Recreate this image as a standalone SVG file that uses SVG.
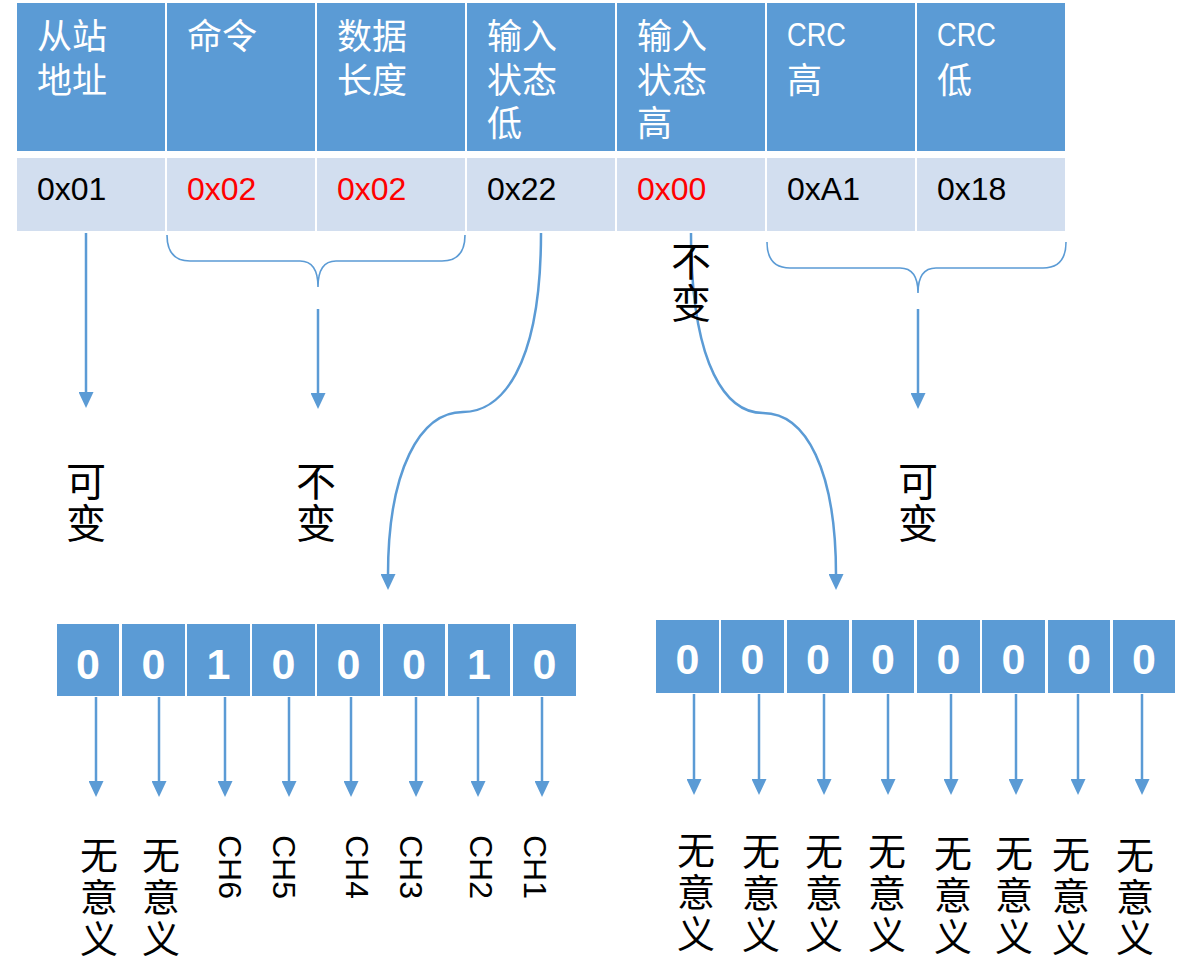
<svg xmlns="http://www.w3.org/2000/svg" width="1188" height="963" viewBox="0 0 1188 963">
<style>
.hd{fill:#5B9BD5}
.vl{fill:#D2DEEF}
.ht{font-family:"Noto Sans CJK SC","Liberation Sans",sans-serif;font-size:35px;fill:#fff}
.hl{font-family:"Liberation Sans",sans-serif;font-size:34px}
.v{font-family:"Liberation Sans",sans-serif;font-size:32px;fill:#000}
.r{fill:#FF0000}
.bit{fill:#5B9BD5}
.bt{font-family:"Liberation Sans",sans-serif;font-weight:bold;font-size:43px;fill:#fff;text-anchor:middle}
.cj{font-family:"Noto Sans CJK SC",sans-serif;font-size:38px;fill:#000;writing-mode:vertical-rl;letter-spacing:4px}
.cj2{font-family:"Noto Sans CJK SC",sans-serif;font-size:40px;fill:#000;writing-mode:vertical-rl;letter-spacing:2px}
.ch{font-family:"Liberation Sans",sans-serif;font-size:32px;fill:#000}
.ln{stroke:#5B9BD5;stroke-width:2.5;fill:none}
.br{stroke:#5B9BD5;stroke-width:1.6;fill:none}
</style>
<defs>
<marker id="ah" markerUnits="userSpaceOnUse" markerWidth="16" markerHeight="15" refX="1" refY="7.5" orient="auto" viewBox="0 0 16 15">
<path d="M0,0 L16,7.5 L0,15 Z" fill="#5B9BD5"/>
</marker>
</defs>
<rect width="1188" height="963" fill="#fff"/>

<g id="table">
<g id="col1"><rect class="hd" x="17" y="3" width="148" height="148"/><rect class="vl" x="17" y="158" width="148" height="73"/>
<text class="ht" x="37" y="49">从站<tspan x="37" dy="43.5">地址</tspan></text><text class="v" x="37" y="200">0x01</text></g>
<g id="col2"><rect class="hd" x="167" y="3" width="148" height="148"/><rect class="vl" x="167" y="158" width="148" height="73"/>
<text class="ht" x="187" y="49">命令</text><text class="v r" x="187" y="200">0x02</text></g>
<g id="col3"><rect class="hd" x="317" y="3" width="148" height="148"/><rect class="vl" x="317" y="158" width="148" height="73"/>
<text class="ht" x="337" y="49">数据<tspan x="337" dy="43.5">长度</tspan></text><text class="v r" x="337" y="200">0x02</text></g>
<g id="col4"><rect class="hd" x="467" y="3" width="148" height="148"/><rect class="vl" x="467" y="158" width="148" height="73"/>
<text class="ht" x="487" y="49">输入<tspan x="487" dy="43.5">状态</tspan><tspan x="487" dy="43.5">低</tspan></text><text class="v" x="487" y="200">0x22</text></g>
<g id="col5"><rect class="hd" x="617" y="3" width="148" height="148"/><rect class="vl" x="617" y="158" width="148" height="73"/>
<text class="ht" x="637" y="49">输入<tspan x="637" dy="43.5">状态</tspan><tspan x="637" dy="43.5">高</tspan></text><text class="v r" x="637" y="200">0x00</text></g>
<g id="col6"><rect class="hd" x="767" y="3" width="148" height="148"/><rect class="vl" x="767" y="158" width="148" height="73"/>
<text class="ht" x="787" y="46"><tspan class="hl" textLength="59" lengthAdjust="spacingAndGlyphs">CRC</tspan><tspan x="787" y="92.5">高</tspan></text><text class="v" x="787" y="200">0xA1</text></g>
<g id="col7"><rect class="hd" x="917" y="3" width="148" height="148"/><rect class="vl" x="917" y="158" width="148" height="73"/>
<text class="ht" x="937" y="46"><tspan class="hl" textLength="59" lengthAdjust="spacingAndGlyphs">CRC</tspan><tspan x="937" y="92.5">低</tspan></text><text class="v" x="937" y="200">0x18</text></g>
</g>

<g id="connectors">
<line class="ln" x1="86" y1="233" x2="86" y2="393" marker-end="url(#ah)"/>
<path class="br" d="M167,235 Q167,261 190,261 L300,261 Q318,261 318,287 Q318,261 336,261 L442,261 Q465,261 465,235"/>
<line class="ln" x1="318" y1="309" x2="318" y2="394" marker-end="url(#ah)"/>
<path class="br" d="M767,242 Q767,268 790,268 L900,268 Q918,268 918,293 Q918,268 936,268 L1043,268 Q1066,268 1066,242"/>
<line class="ln" x1="918" y1="309" x2="918" y2="394" marker-end="url(#ah)"/>
<path class="ln" d="M541,233 C541,370 500,412 463,412 C420,412 388,470 388,575" marker-end="url(#ah)"/>
<path class="ln" d="M691,233 C691,370 728,413 763,413 C806,413 836,470 836,575" marker-end="url(#ah)"/>
<line class="ln" x1="96" y1="697" x2="96" y2="782" marker-end="url(#ah)"/>
<line class="ln" x1="159" y1="697" x2="159" y2="782" marker-end="url(#ah)"/>
<line class="ln" x1="225" y1="697" x2="225" y2="782" marker-end="url(#ah)"/>
<line class="ln" x1="289" y1="697" x2="289" y2="782" marker-end="url(#ah)"/>
<line class="ln" x1="351" y1="697" x2="351" y2="782" marker-end="url(#ah)"/>
<line class="ln" x1="416" y1="697" x2="416" y2="782" marker-end="url(#ah)"/>
<line class="ln" x1="478" y1="697" x2="478" y2="782" marker-end="url(#ah)"/>
<line class="ln" x1="542" y1="697" x2="542" y2="782" marker-end="url(#ah)"/>
<line class="ln" x1="694" y1="694" x2="694" y2="780" marker-end="url(#ah)"/>
<line class="ln" x1="759" y1="694" x2="759" y2="780" marker-end="url(#ah)"/>
<line class="ln" x1="824" y1="694" x2="824" y2="780" marker-end="url(#ah)"/>
<line class="ln" x1="888" y1="694" x2="888" y2="780" marker-end="url(#ah)"/>
<line class="ln" x1="951" y1="694" x2="951" y2="780" marker-end="url(#ah)"/>
<line class="ln" x1="1016" y1="694" x2="1016" y2="780" marker-end="url(#ah)"/>
<line class="ln" x1="1078" y1="694" x2="1078" y2="780" marker-end="url(#ah)"/>
<line class="ln" x1="1142" y1="694" x2="1142" y2="780" marker-end="url(#ah)"/>
</g>

<g id="label-top-bubian"><text class="cj2" x="691" y="241">不变</text></g>
<g id="label-kebian-left"><text class="cj2" x="86" y="461">可变</text></g>
<g id="label-bubian-mid"><text class="cj2" x="316" y="461">不变</text></g>
<g id="label-kebian-right"><text class="cj2" x="918" y="461">可变</text></g>

<g id="bits-low">
<rect class="bit" x="57" y="624" width="62" height="72"/><text class="bt" x="88" y="679">0</text>
<rect class="bit" x="122" y="624" width="63" height="72"/><text class="bt" x="153.5" y="679">0</text>
<rect class="bit" x="187" y="624" width="63" height="72"/><text class="bt" x="218.5" y="679">1</text>
<rect class="bit" x="252" y="624" width="63" height="72"/><text class="bt" x="283.5" y="679">0</text>
<rect class="bit" x="317" y="624" width="63" height="72"/><text class="bt" x="348.5" y="679">0</text>
<rect class="bit" x="383" y="624" width="62" height="72"/><text class="bt" x="414" y="679">0</text>
<rect class="bit" x="448" y="624" width="62" height="72"/><text class="bt" x="479" y="679">1</text>
<rect class="bit" x="513" y="624" width="63" height="72"/><text class="bt" x="544.5" y="679">0</text>
</g>

<g id="bits-high">
<rect class="bit" x="656" y="620" width="63" height="73"/><text class="bt" x="687.5" y="674">0</text>
<rect class="bit" x="721" y="620" width="63" height="73"/><text class="bt" x="752.5" y="674">0</text>
<rect class="bit" x="787" y="620" width="62" height="73"/><text class="bt" x="818" y="674">0</text>
<rect class="bit" x="852" y="620" width="62" height="73"/><text class="bt" x="883" y="674">0</text>
<rect class="bit" x="917" y="620" width="63" height="73"/><text class="bt" x="948.5" y="674">0</text>
<rect class="bit" x="982" y="620" width="63" height="73"/><text class="bt" x="1013.5" y="674">0</text>
<rect class="bit" x="1048" y="620" width="62" height="73"/><text class="bt" x="1079" y="674">0</text>
<rect class="bit" x="1113" y="620" width="62" height="73"/><text class="bt" x="1144" y="674">0</text>
</g>

<g id="labels-low">
<text class="cj" x="99" y="836">无意义</text>
<text class="cj" x="161" y="836">无意义</text>
<text class="ch" x="219" y="835" transform="rotate(90 219 835)">CH6</text>
<text class="ch" x="273" y="835" transform="rotate(90 273 835)">CH5</text>
<text class="ch" x="346" y="835" transform="rotate(90 346 835)">CH4</text>
<text class="ch" x="400" y="835" transform="rotate(90 400 835)">CH3</text>
<text class="ch" x="470" y="835" transform="rotate(90 470 835)">CH2</text>
<text class="ch" x="524" y="835" transform="rotate(90 524 835)">CH1</text>
</g>

<g id="labels-high">
<text class="cj" x="696" y="831">无意义</text>
<text class="cj" x="761" y="832">无意义</text>
<text class="cj" x="824" y="832">无意义</text>
<text class="cj" x="887" y="832">无意义</text>
<text class="cj" x="953" y="834">无意义</text>
<text class="cj" x="1014" y="834">无意义</text>
<text class="cj" x="1071" y="835">无意义</text>
<text class="cj" x="1135" y="836" style="letter-spacing:3.5px">无意义</text>
</g>
</svg>
